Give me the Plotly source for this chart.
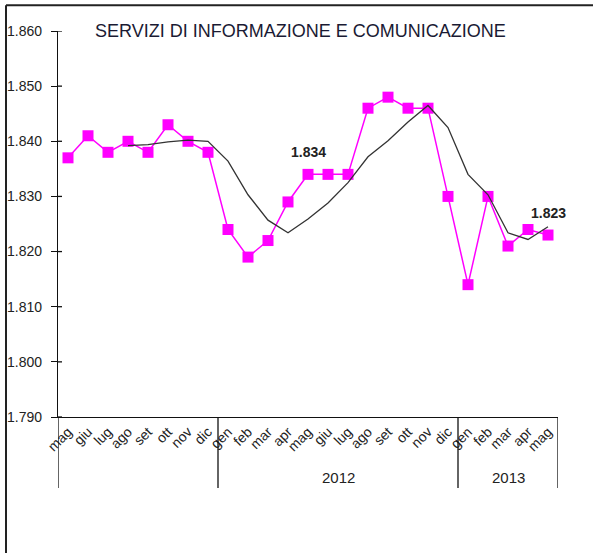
import plotly.graph_objects as go

months = ["mag", "giu", "lug", "ago", "set", "ott", "nov", "dic",
          "gen", "feb", "mar", "apr", "mag", "giu", "lug", "ago", "set", "ott", "nov", "dic",
          "gen", "feb", "mar", "apr", "mag"]
values = [1837, 1841, 1838, 1840, 1838, 1843, 1840, 1838,
          1824, 1819, 1822, 1829, 1834, 1834, 1834, 1846, 1848, 1846, 1846, 1830,
          1814, 1830, 1821, 1824, 1823]
trend = [None, None, None, 1839.2, 1839.4, 1839.9, 1840.2, 1840.0,
         1836.4, 1830.3, 1825.7, 1823.4, 1825.9, 1828.8, 1832.5, 1837.2, 1840.1, 1843.5, 1846.5, 1842.5,
         1834.0, 1830.3, 1823.4, 1822.2, 1824.5]
years = ["2012", "2013"]
year_centers = [13.5, 22]
group_bounds = [-0.5, 7.5, 19.5, 24.5]
labelled = [12, 24]
y_ticks = [1790, 1800, 1810, 1820, 1830, 1840, 1850, 1860]

x = list(range(len(months)))
FONT = "Liberation Sans, Arial, sans-serif"

fig = go.Figure()
fig.add_trace(go.Scatter(
    x=x, y=values, mode="lines+markers",
    line=dict(color="#FF00FF", width=1.5),
    marker=dict(symbol="square", size=11, color="#FF00FF"),
    showlegend=False, hoverinfo="skip"))
fig.add_trace(go.Scatter(
    x=x, y=trend, mode="lines",
    line=dict(color="#333333", width=1.3),
    showlegend=False, hoverinfo="skip"))

for i in labelled:
    fig.add_annotation(x=x[i], y=values[i], text=f"<b>{values[i] // 1000}.{values[i] % 1000:03d}</b>",
                       showarrow=False, yshift=22,
                       font=dict(family=FONT, size=14, color="#222222"))

for yr, c in zip(years, year_centers):
    fig.add_annotation(x=c, y=-0.158, xref="x", yref="paper", text=yr, showarrow=False,
                       yanchor="middle",
                       font=dict(family=FONT, size=15, color="#222222"))

for b in group_bounds:
    fig.add_shape(type="line", xref="x", yref="paper", x0=b, x1=b, y0=0, y1=-0.184,
                  line=dict(color="#111111", width=1.3))

# inner part of the crossing y ticks
for t in y_ticks:
    fig.add_shape(type="line", xref="paper", yref="y", x0=0, x1=0.008, y0=t, y1=t,
                  line=dict(color="#111111", width=1.3))

fig.add_annotation(x=0.484, y=1.0, xref="paper", yref="paper",
                   text="SERVIZI DI INFORMAZIONE E COMUNICAZIONE", showarrow=False,
                   font=dict(family=FONT, size=18, color="#1a1a33"), yanchor="middle")

# outer frame (left and top)
fig.add_shape(type="line", xref="paper", yref="paper", x0=-0.104, x1=-0.104, y0=-0.36, y1=1.067,
              line=dict(color="#222222", width=2))
fig.add_shape(type="line", xref="paper", yref="paper", x0=-0.104, x1=1.07, y0=1.067, y1=1.067,
              line=dict(color="#222222", width=2))

fig.update_layout(
    width=593, height=553,
    margin=dict(l=58, r=35, t=31, b=136),
    paper_bgcolor="white", plot_bgcolor="white",
    separators=",.",
    font=dict(family=FONT, size=12, color="#222222"),
    xaxis=dict(range=[-0.5, 24.5], tickmode="array", tickvals=x, ticktext=months,
               tickangle=-45, showgrid=False, zeroline=False, showline=True,
               linecolor="#111111", linewidth=1.3, ticks="", fixedrange=True,
               automargin=False,
               tickfont=dict(family=FONT, size=14, color="#222222")),
    yaxis=dict(range=[1790, 1860], tickmode="array", tickvals=y_ticks, tickformat=",d",
               showgrid=False, zeroline=False, showline=True, linecolor="#111111", linewidth=1.3,
               ticks="outside", ticklen=6, tickcolor="#111111", fixedrange=True,
               automargin=False, ticklabelstandoff=6,
               tickfont=dict(family=FONT, size=14, color="#222222")),
)

fig.write_html("out.html", config={"displayModeBar": False})

with open("out.html", "r", encoding="utf-8") as f:
    html = f.read()
html = html.replace("<head>", "<head><style>html,body{margin:0;padding:0;overflow:hidden;}</style>", 1)
with open("out.html", "w", encoding="utf-8") as f:
    f.write(html)
